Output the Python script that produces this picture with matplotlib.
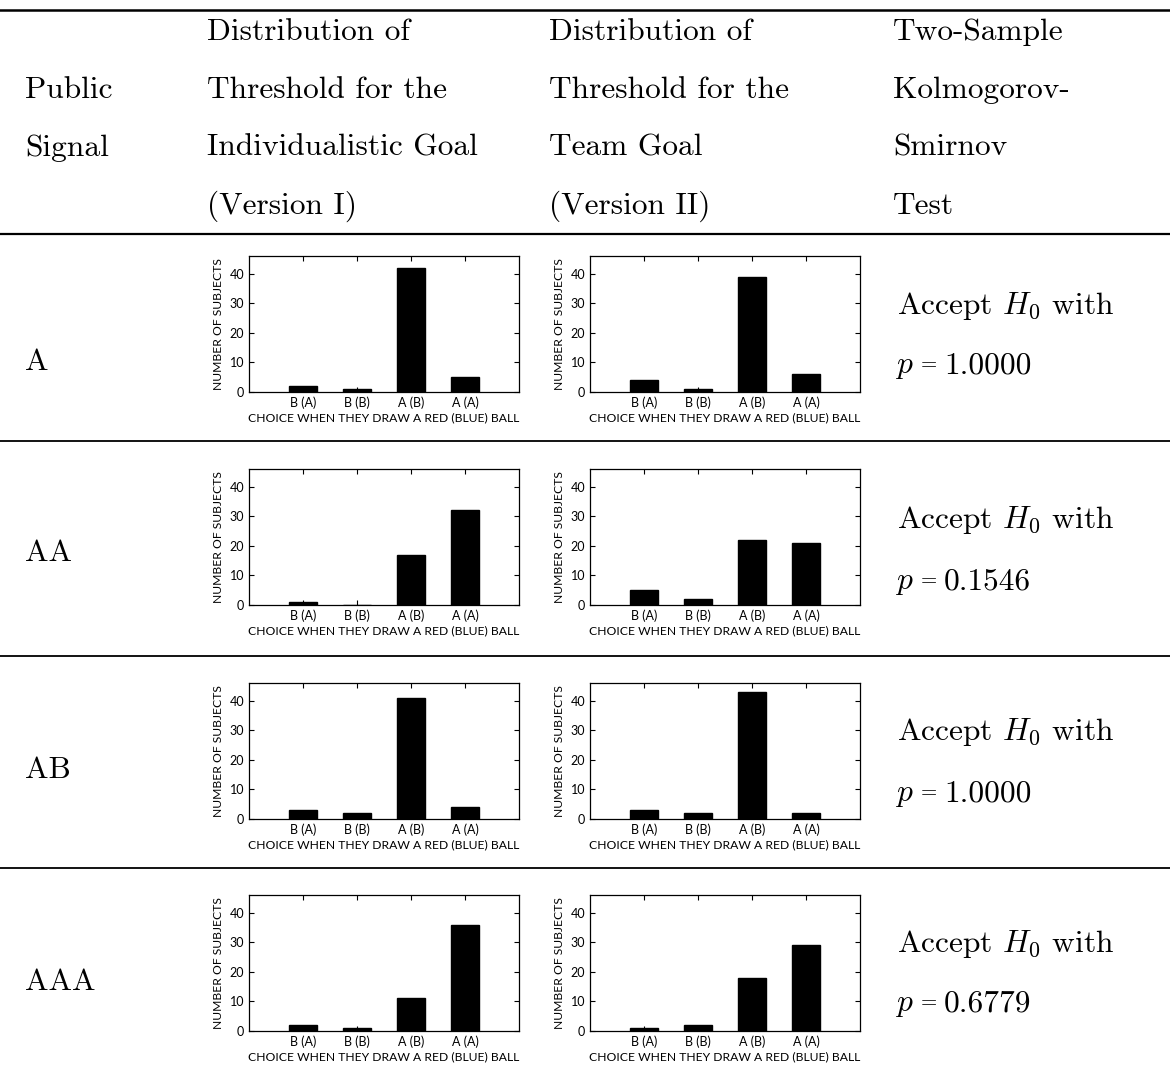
import matplotlib
matplotlib.use("Agg")
import matplotlib.pyplot as plt
from matplotlib.lines import Line2D

plt.rcParams["mathtext.fontset"] = "cm"

# ---- data -------------------------------------------------------------
choices = ["B (A)", "B (B)", "A (B)", "A (A)"]
signals = ["A", "AA", "AB", "AAA"]

# number of subjects choosing each option (50 subjects per treatment)
version_i = {
    "A":   [2, 1, 42, 5],
    "AA":  [1, 0, 17, 32],
    "AB":  [3, 2, 41, 4],
    "AAA": [2, 1, 11, 36],
}
version_ii = {
    "A":   [4, 1, 39, 6],
    "AA":  [5, 2, 22, 21],
    "AB":  [3, 2, 43, 2],
    "AAA": [1, 2, 18, 29],
}
ks_pvalues = {"A": "1.0000", "AA": "0.1546", "AB": "1.0000", "AAA": "0.6779"}

header_cols = [
    ["", "Public", "Signal", ""],
    ["Distribution of", "Threshold for the", "Individualistic Goal", "(Version I)"],
    ["Distribution of", "Threshold for the", "Team Goal", "(Version II)"],
    ["Two-Sample", "Kolmogorov-", "Smirnov", "Test"],
]
y_ticks = [0, 10, 20, 30, 40]

# ---- layout (pixels) --------------------------------------------------
W, H = 1170, 1076
fig = plt.figure(figsize=(W / 100, H / 100), dpi=100)
fig.patch.set_facecolor("white")


def fx(x):
    return x / W


def fy(y):
    return 1 - y / H


serif = "cmr10"
sans = "Lato"
table_fs = 22.6
eq_fs = 15
tick_fs = 9.0
label_fs = 8.7

# horizontal rules
for y, lw in [(10, 1.8), (234, 1.6), (441, 1.3), (656, 1.3), (868, 1.3)]:
    fig.add_artist(Line2D([0, 1], [fy(y), fy(y)], color="black", lw=lw,
                          transform=fig.transFigure))

# header text
col_x = [25, 207, 549, 893]
line_y = [32, 90, 148, 206]
for cx, lines in zip(col_x, header_cols):
    for ly, txt in zip(line_y, lines):
        if txt:
            fig.text(fx(cx), fy(ly), txt, family=serif, fontsize=table_fs,
                     ha="left", va="center")

# body rows
row_bottom = [392, 605, 819, 1031]
row_label_y = [362, 553, 770, 982]
test_y = [(306, 373), (520, 589), (732, 801), (944, 1011)]
col_left = [249, 590]
ax_w, ax_h = 270, 136
ymax = 46

for sig, bot, ly, (t1, base2) in zip(signals, row_bottom, row_label_y, test_y):
    fig.text(fx(25), fy(ly), sig, family=serif, fontsize=table_fs,
             ha="left", va="center")
    fig.text(fx(897), fy(t1), r"Accept $H_0$ with", family=serif,
             fontsize=table_fs, ha="left", va="center")
    # "p = value" line: italic p, a compact equals sign, then the value
    fig.text(fx(895), fy(base2), r"$p$", fontsize=table_fs,
             ha="left", va="baseline")
    fig.text(fx(921), fy(base2 - 2.5), "=", family=serif, fontsize=eq_fs,
             ha="left", va="baseline")
    fig.text(fx(944), fy(base2), ks_pvalues[sig], family=serif,
             fontsize=table_fs, ha="left", va="baseline")

    for left, data in zip(col_left, (version_i[sig], version_ii[sig])):
        ax = fig.add_axes([fx(left), fy(bot), ax_w / W, ax_h / H])
        xs = range(1, len(choices) + 1)
        ax.bar(xs, data, width=0.52, color="black", edgecolor="black")
        ax.set_xlim(0, 5)
        ax.set_ylim(0, ymax)
        ax.set_xticks(list(xs))
        ax.set_xticklabels(choices)
        ax.set_yticks(y_ticks)
        ax.tick_params(direction="in", length=3.5, width=0.8, top=True,
                       right=True, labelsize=tick_fs, pad=3.5)
        for lab in ax.get_xticklabels() + ax.get_yticklabels():
            lab.set_family(sans)
        ax.set_xlabel("CHOICE WHEN THEY DRAW A RED (BLUE) BALL",
                      family=sans, fontsize=label_fs, labelpad=2)
        ax.set_ylabel("NUMBER OF SUBJECTS", family=sans, fontsize=label_fs,
                      labelpad=4)
        for sp in ax.spines.values():
            sp.set_linewidth(0.9)

fig.savefig("out.png", dpi=100, facecolor="white")
